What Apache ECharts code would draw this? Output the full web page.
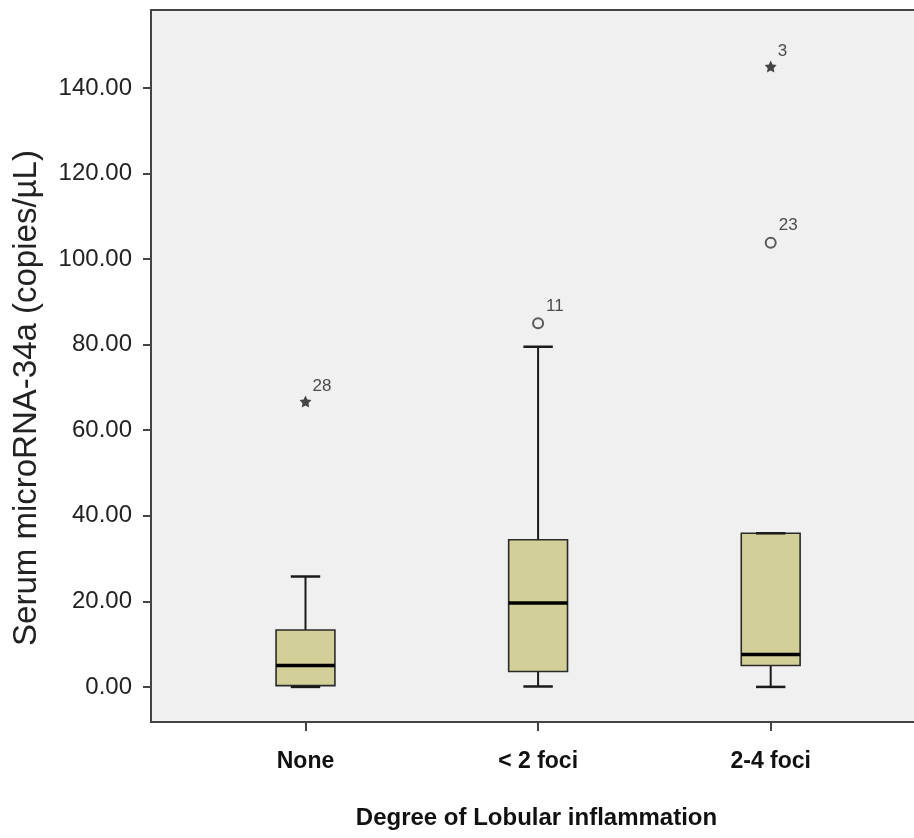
<!DOCTYPE html>
<html>
<head>
<meta charset="utf-8">
<script src="https://cdn.jsdelivr.net/npm/echarts@6/dist/echarts.min.js"></script>
<style>
html,body{margin:0;padding:0;background:#fff;overflow:hidden;}
#chart{width:922px;height:838px;}
</style>
</head>
<body>
<div id="chart"></div>
<script>
// ---- data ----
const categories = ['None', '< 2 foci', '2-4 foci'];
const whiskerLow = [0, 0.1, 0];
const q1 = [0.3, 3.6, 5.0];
const median = [5.0, 19.6, 7.6];
const q3 = [13.3, 34.4, 35.9];
const whiskerHigh = [25.8, 79.5, 35.9];

const circleGroup = [2, 3];        // category position (1-based)
const circleValues = [85.0, 103.8];
const circleCases = ['11', '23'];

const starGroup = [1, 3];
const starValues = [66.7, 145.0];
const starCases = ['28', '3'];

const yTicks = [0, 20, 40, 60, 80, 100, 120, 140];
const xTicks = [1, 2, 3];

const boxData = categories.map((c, i) => [i + 1, whiskerLow[i], q1[i], median[i], q3[i], whiskerHigh[i]]);
const circleData = circleGroup.map((g, i) => ({ value: [g, circleValues[i]], label: { formatter: circleCases[i] } }));
const starData = starGroup.map((g, i) => ({ value: [g, starValues[i]], label: { formatter: starCases[i] } }));

const STAR = 'path://M0,-10 L2.94,-4.05 L9.51,-3.09 L4.76,1.55 L5.88,8.09 L0,5 L-5.88,8.09 L-4.76,1.55 L-9.51,-3.09 L-2.94,-4.05 Z';

function renderBox(params, api) {
  const x = api.value(0);
  const lo = api.coord([x, api.value(1)]);
  const b1 = api.coord([x, api.value(2)]);
  const md = api.coord([x, api.value(3)]);
  const b3 = api.coord([x, api.value(4)]);
  const hi = api.coord([x, api.value(5)]);
  const unit = api.size([1, 0])[0];
  const bw = unit * 0.253;
  const cw = bw / 2;
  const cx = lo[0];
  const line = { stroke: '#1a1a1a', lineWidth: 2 };
  return {
    type: 'group',
    children: [
      { type: 'line', shape: { x1: cx, y1: hi[1], x2: cx, y2: b3[1] }, style: line },
      { type: 'line', shape: { x1: cx, y1: b1[1], x2: cx, y2: lo[1] }, style: line },
      { type: 'rect', shape: { x: cx - bw / 2, y: b3[1], width: bw, height: b1[1] - b3[1] },
        style: { fill: '#d3cf98', stroke: '#2a2a2a', lineWidth: 1.6 } },
      { type: 'line', shape: { x1: cx - cw / 2, y1: hi[1], x2: cx + cw / 2, y2: hi[1] }, style: { stroke: '#1a1a1a', lineWidth: 2.5 } },
      { type: 'line', shape: { x1: cx - cw / 2, y1: lo[1], x2: cx + cw / 2, y2: lo[1] }, style: { stroke: '#1a1a1a', lineWidth: 2.5 } },
      { type: 'line', shape: { x1: cx - bw / 2, y1: md[1], x2: cx + bw / 2, y2: md[1] }, style: { stroke: '#000', lineWidth: 3.5 } }
    ]
  };
}

const chart = echarts.init(document.getElementById('chart'), null, { renderer: 'canvas' });
chart.setOption({
  animation: false,
  backgroundColor: '#ffffff',
  grid: {
    left: 151, right: 0, top: 10, bottom: 116,
    show: true, backgroundColor: '#f0f0f0', borderColor: '#444', borderWidth: 2
  },
  xAxis: {
    type: 'value',
    min: 0.3358, max: 3.6505,
    splitLine: { show: false },
    axisLine: { show: true, onZero: false, lineStyle: { color: '#444', width: 2 } },
    axisTick: { show: true, customValues: xTicks, length: 9, lineStyle: { color: '#444', width: 2 } },
    axisLabel: {
      customValues: xTicks, margin: 28,
      formatter: v => categories[Math.round(v) - 1] || '',
      fontFamily: 'Liberation Sans, Arial, sans-serif', fontWeight: 'bold', fontSize: 23, color: '#111'
    },
    name: 'Degree of Lobular inflammation',
    nameLocation: 'middle', nameGap: 84,
    nameTextStyle: { fontFamily: 'Liberation Sans, Arial, sans-serif', fontWeight: 'bold', fontSize: 24, color: '#111' }
  },
  yAxis: {
    type: 'value',
    min: -8.2, max: 158.2,
    splitLine: { show: false },
    axisLine: { show: true, lineStyle: { color: '#444', width: 2 } },
    axisTick: { show: true, customValues: yTicks, length: 8, lineStyle: { color: '#444', width: 2 } },
    axisLabel: {
      customValues: yTicks, margin: 19,
      formatter: v => Number(v).toFixed(2),
      fontFamily: 'Liberation Sans, Arial, sans-serif', fontSize: 24, color: '#222'
    },
    name: 'Serum microRNA-34a (copies/µL)',
    nameLocation: 'middle', nameGap: 108,
    nameTextStyle: { fontFamily: 'Liberation Sans, Arial, sans-serif', fontSize: 33, color: '#222', padding: [0, 64, 0, 0] }
  },
  series: [
    {
      type: 'custom',
      renderItem: renderBox,
      data: boxData,
      encode: { x: 0, y: [1, 2, 3, 4, 5] },
      z: 2
    },
    {
      type: 'scatter',
      data: circleData,
      symbol: 'circle', symbolSize: 10,
      itemStyle: { color: 'rgba(0,0,0,0)', borderColor: '#333', borderWidth: 2 },
      label: { show: true, position: 'right', distance: 2, offset: [0, -17],
        fontFamily: 'Liberation Sans, Arial, sans-serif', fontSize: 17, color: '#222' },
      z: 3
    },
    {
      type: 'scatter',
      data: starData,
      symbol: STAR, symbolSize: 12,
      itemStyle: { color: '#1a1a1a' },
      label: { show: true, position: 'right', distance: 1, offset: [0, -15],
        fontFamily: 'Liberation Sans, Arial, sans-serif', fontSize: 17, color: '#222' },
      z: 3
    }
  ]
});
</script>
</body>
</html>
